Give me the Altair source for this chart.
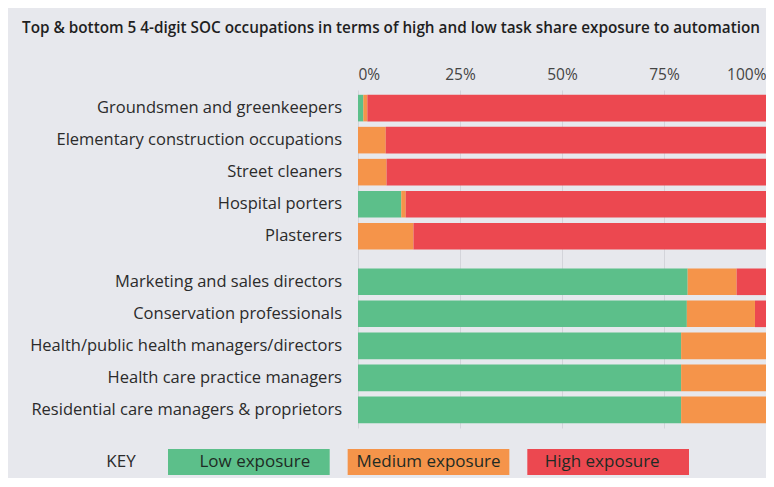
import altair as alt
import pandas as pd

occupations = [
    "Groundsmen and greenkeepers",
    "Elementary construction occupations",
    "Street cleaners",
    "Hospital porters",
    "Plasterers",
    "Marketing and sales directors",
    "Conservation professionals",
    "Health/public health managers/directors",
    "Health care practice managers",
    "Residential care managers & proprietors",
]
groups = ["Top", "Top", "Top", "Top", "Top",
          "Bottom", "Bottom", "Bottom", "Bottom", "Bottom"]
ranks = [1, 2, 3, 4, 5, 1, 2, 3, 4, 5]
low = [1.3, 0.0, 0.0, 10.6, 0.0, 80.8, 80.6, 79.2, 79.2, 79.2]
medium = [1.0, 6.8, 7.0, 1.1, 13.6, 12.0, 16.7, 20.8, 20.8, 20.8]
high = [97.7, 93.2, 93.0, 88.3, 86.4, 7.2, 2.7, 0.0, 0.0, 0.0]

exposures = ["Low exposure", "Medium exposure", "High exposure"]
colors = ["#5cbf8a", "#f5944a", "#ec4850"]
x_ticks = [0, 25, 50, 75, 100]
title_text = "Top & bottom 5 4-digit SOC occupations in terms of high and low task share exposure to automation"

rows = []
for occ, grp, rk, lo, me, hi in zip(occupations, groups, ranks, low, medium, high):
    for i, (name, v) in enumerate(zip(exposures, [lo, me, hi])):
        rows.append({"occupation": occ, "group": grp, "rank": rk,
                     "exposure": name, "value": v, "order": i})
df = pd.DataFrame(rows)
df_occ = pd.DataFrame({"occupation": occupations, "group": groups, "rank": ranks})
df_key = pd.DataFrame({"exposure": exposures})

FONT = "Open Sans"
TEXT = "#2b2b2b"

y_enc = alt.Y("group:N", sort=["Top", "Bottom"], axis=None,
              scale=alt.Scale(paddingInner=0.078, paddingOuter=0.012))
yoff_enc = alt.YOffset("rank:O",
                       scale=alt.Scale(paddingInner=0.17, paddingOuter=0.085))
color_enc = alt.Color("exposure:N", legend=None,
                      scale=alt.Scale(domain=exposures, range=colors))

bars = alt.Chart(df).mark_bar(cornerRadius=0).encode(
    x=alt.X("value:Q", stack="zero",
            scale=alt.Scale(domain=[0, 100], nice=False),
            axis=alt.Axis(orient="top", values=x_ticks,
                          labelExpr="datum.value + '%'", title=None,
                          domain=False, ticks=False, grid=True,
                          gridColor="#d3d4da", gridWidth=1,
                          labelFont=FONT, labelFontSize=15.5,
                          labelColor="#444", labelPadding=8,
                          labelFontWeight=500)),
    y=y_enc,
    yOffset=yoff_enc,
    color=color_enc,
    order=alt.Order("order:Q"),
)

labels = alt.Chart(df_occ).mark_text(
    align="right", baseline="middle", font=FONT, fontSize=16.5,
    fontWeight=500, color=TEXT
).encode(
    x=alt.value(-16),
    y=y_enc,
    yOffset=yoff_enc,
    text="occupation:N",
)

key_x = alt.X("exposure:N", sort=exposures, axis=None,
              scale=alt.Scale(domain=exposures, range=[-190, 331],
                              paddingInner=0.1, paddingOuter=0))

key_rect = alt.Chart(df_key).mark_rect().encode(
    x=key_x,
    y=alt.value(359),
    y2=alt.value(385),
    color=color_enc,
)
key_text = alt.Chart(df_key).mark_text(
    align="center", baseline="middle", font=FONT, fontSize=17,
    fontWeight=500, color="#1e2b24"
).encode(
    x=key_x,
    y=alt.value(372),
    text="exposure:N",
)
key_label = alt.Chart(pd.DataFrame({"t": ["KEY"]})).mark_text(
    align="center", baseline="middle", font=FONT, fontSize=17,
    fontWeight=500, color=TEXT
).encode(
    x=alt.value(-237),
    y=alt.value(372),
    text="t:N",
)

chart = alt.layer(bars, labels, key_rect, key_text, key_label).resolve_scale(
    x="independent"
).properties(
    width=408,
    height=338,
    title=alt.TitleParams(title_text, anchor="start", frame="group",
                          dx=-336, offset=16, font=FONT, fontSize=15.3,
                          fontWeight=600, color="#1f1f1f",
                          baseline="bottom"),
    autosize=alt.AutoSizeParams(type="none"),
    padding={"left": 350, "top": 82, "right": 0, "bottom": 50},
    background="#e7e8ed",
).configure_view(stroke=None)

chart.save("out.html", embed_options={"renderer": "svg", "actions": False})
